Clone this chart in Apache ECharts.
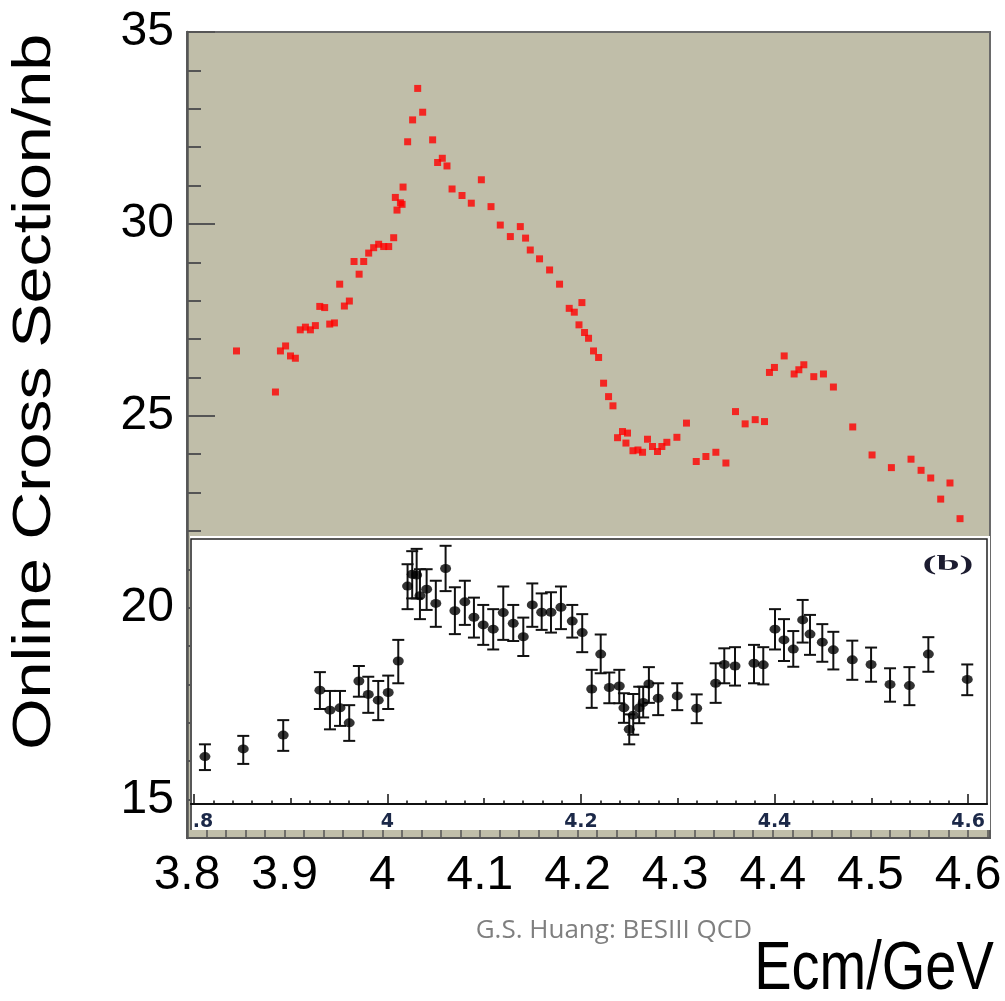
<!DOCTYPE html>
<html><head><meta charset="utf-8">
<script src="https://cdn.jsdelivr.net/npm/echarts@6/dist/echarts.min.js"></script>
<style>html,body{margin:0;padding:0;background:#fff}#c{width:1005px;height:1001px}</style>
</head><body><div id="c"></div>
<script>
// Upper panel: online cross section (red squares)
const upperX = [3.8507,3.8906,3.8957,3.9010,3.9060,3.9110,3.9160,3.9213,3.9264,3.9315,3.9360,3.9410,3.9462,3.9510,3.9564,3.9612,3.9663,3.9711,3.9763,3.9810,3.9861,3.9912,3.9963,4.0015,4.0066,4.0117,4.0134,4.0151,4.0186,4.0203,4.0213,4.0260,4.0311,4.0363,4.0414,4.0516,4.0567,4.0615,4.0663,4.0715,4.0817,4.0912,4.1015,4.1114,4.1209,4.1312,4.1414,4.1468,4.1516,4.1611,4.1714,4.1816,4.1915,4.1967,4.2015,4.2045,4.2072,4.2113,4.2164,4.2216,4.2267,4.2318,4.2363,4.2410,4.2461,4.2496,4.2512,4.2568,4.2619,4.2666,4.2717,4.2768,4.2819,4.2864,4.2915,4.3018,4.3116,4.3216,4.3315,4.3417,4.3520,4.3618,4.3717,4.3820,4.3915,4.3966,4.4017,4.4117,4.4219,4.4267,4.4318,4.4420,4.4519,4.4621,4.4819,4.5017,4.5215,4.5416,4.5519,4.5618,4.5720,4.5815,4.5918];
const upperY = [26.69,25.62,26.69,26.82,26.56,26.50,27.24,27.31,27.24,27.35,27.85,27.82,27.39,27.42,28.43,27.86,27.99,29.02,28.69,29.02,29.24,29.38,29.47,29.41,29.41,29.64,30.69,30.36,30.55,30.51,30.96,32.14,32.71,33.53,32.91,32.19,31.60,31.71,31.51,30.91,30.74,30.54,31.15,30.45,29.97,29.67,29.93,29.63,29.32,29.09,28.80,28.43,27.80,27.70,27.37,27.95,27.17,27.02,26.69,26.52,25.85,25.50,25.26,24.43,24.59,24.29,24.55,24.09,24.11,24.05,24.39,24.20,24.07,24.20,24.31,24.44,24.81,23.81,23.94,24.05,23.77,25.11,24.79,24.90,24.85,26.13,26.26,26.56,26.09,26.20,26.33,26.02,26.09,25.75,24.71,23.98,23.65,23.87,23.58,23.38,22.83,23.25,22.32];

// Lower panel (b): points with error bars
const lowerX  = [3.8114,3.8510,3.8923,3.9302,3.9406,3.9510,3.9605,3.9705,3.9802,3.9905,4.0008,4.0112,4.0208,4.0256,4.0302,4.0336,4.0405,4.0500,4.0601,4.0697,4.0800,4.0894,4.0990,4.1093,4.1197,4.1300,4.1404,4.1497,4.1594,4.1690,4.1793,4.1910,4.2013,4.2111,4.2204,4.2293,4.2396,4.2444,4.2499,4.2540,4.2602,4.2643,4.2702,4.2798,4.2995,4.3196,4.3392,4.3481,4.3592,4.3788,4.3884,4.4005,4.4098,4.4194,4.4291,4.4367,4.4494,4.4608,4.4804,4.4998,4.5194,4.5394,4.5590,4.5992];
const lowerY  = [16.13,16.33,16.69,17.86,17.34,17.40,17.01,18.10,17.75,17.60,17.80,18.62,20.57,20.88,20.86,20.32,20.49,20.12,21.03,19.93,20.16,19.76,19.56,19.45,19.88,19.60,19.25,20.08,19.89,19.89,20.02,19.66,19.36,17.89,18.80,17.93,17.97,17.40,16.84,17.21,17.40,17.54,18.02,17.65,17.71,17.39,18.04,18.53,18.49,18.56,18.52,19.45,19.17,18.93,19.69,19.32,19.11,18.91,18.65,18.53,18.01,17.98,18.80,18.14];
const lowerHi = [16.45,16.67,17.08,18.33,17.84,17.84,17.47,18.49,18.21,18.10,18.24,19.17,21.14,21.48,21.54,21.01,21.01,20.71,21.62,20.54,20.71,20.27,20.08,19.97,20.56,20.08,19.75,20.64,20.38,20.41,20.56,20.08,19.84,18.39,19.31,18.32,18.39,17.78,17.23,17.76,17.95,17.95,18.46,18.04,18.04,17.75,18.56,18.95,18.98,19.04,18.98,19.97,19.71,19.40,20.21,19.82,19.58,19.38,19.15,18.97,18.43,18.46,19.24,18.53];
const lowerLo = [15.78,15.94,16.28,17.37,16.84,16.93,16.54,17.69,17.27,17.08,17.37,18.04,19.97,20.25,20.25,19.71,19.95,19.51,20.44,19.32,19.56,19.23,19.04,18.92,19.17,19.14,18.75,19.51,19.43,19.36,19.45,19.23,18.85,17.40,18.30,17.52,17.52,17.01,16.45,16.70,17.00,17.15,17.53,17.21,17.34,17.00,17.53,18.04,17.98,18.04,18.01,18.92,18.62,18.47,19.10,18.78,18.60,18.40,18.13,18.08,17.56,17.47,18.34,17.73];

// Tick labels
const upperYLabels = [15, 20, 25, 30, 35];
const lowerXLabels = [3.8, 4.0, 4.2, 4.4, 4.6];
const lowerXMedium = [3.9, 4.1, 4.3, 4.5];
const lowerXMinor = [];
for (let i = 0; i <= 40; i++) { if (i % 5 !== 0) lowerXMinor.push(Math.round((3.8 + i * 0.02) * 100) / 100); }

const chart = echarts.init(document.getElementById('c'), null, {renderer: 'canvas'});
const SANS = '"Liberation Sans", Arial, Helvetica, sans-serif';
const BOLDSANS = '"DejaVu Sans", "Liberation Sans", sans-serif';
const labColor = '#1b2848';

const option = {
  animation: false,
  backgroundColor: '#ffffff',
  grid: [
    {left: 187, top: 32, width: 803, height: 806, show: true, backgroundColor: '#c0bea9', borderColor: '#6a6a6a', borderWidth: 2, z: 0},
    {left: 191, top: 539, width: 796, height: 265, show: true, backgroundColor: '#ffffff', borderColor: '#222', borderWidth: 1.5, z: 3}
  ],
  xAxis: [
    {gridIndex: 0, type: 'value', position: 'bottom', min: 3.8, max: 4.6225, interval: 0.1,
     axisLine: {show: true, lineStyle: {color: '#555', width: 2}},
     axisTick: {show: true, inside: true, length: 8, lineStyle: {color: '#555', width: 1.5}},
     minorTick: {show: true, splitNumber: 5, length: 8, lineStyle: {color: '#555', width: 1.5}},
     splitLine: {show: false},
     axisLabel: {show: true, showMaxLabel: false, showMinLabel: true, margin: 14, fontSize: 48, fontFamily: SANS, color: '#000'}},
    {gridIndex: 1, type: 'value', position: 'bottom', min: 3.797, max: 4.6196, z: 4,
     axisLine: {show: true, lineStyle: {color: '#111', width: 2}},
     axisTick: {show: true, inside: true, length: 10, customValues: lowerXLabels, lineStyle: {color: '#111', width: 1.5}},
     splitLine: {show: false},
     axisLabel: {show: true, customValues: lowerXLabels, margin: 9, fontSize: 19, fontWeight: 'bold', fontFamily: BOLDSANS, color: labColor,
       formatter: function (v) { return Math.abs(v - 3.8) < 1e-6 ? '{a|.8}' : String(v); },
       rich: {a: {padding: [0, 0, 0, 18], fontSize: 19, fontWeight: 'bold', fontFamily: BOLDSANS, color: labColor}}}},
    {gridIndex: 1, type: 'value', position: 'bottom', min: 3.797, max: 4.6196, z: 4,
     axisLine: {show: false}, axisLabel: {show: false}, splitLine: {show: false},
     axisTick: {show: true, inside: true, length: 6, customValues: lowerXMedium, lineStyle: {color: '#111', width: 1.5}}},
    {gridIndex: 1, type: 'value', position: 'bottom', min: 3.797, max: 4.6196, z: 4,
     axisLine: {show: false}, axisLabel: {show: false}, splitLine: {show: false},
     axisTick: {show: true, inside: true, length: 3.5, customValues: lowerXMinor, lineStyle: {color: '#111', width: 1.5}}}
  ],
  yAxis: [
    {gridIndex: 0, type: 'value', position: 'left', min: 14, max: 35, interval: 1,
     axisLine: {show: true, lineStyle: {color: '#555', width: 2.5}},
     axisTick: {show: true, inside: true, length: 14, lineStyle: {color: '#555', width: 2}},
     splitLine: {show: false},
     axisLabel: {show: true, margin: 13, fontSize: 48, fontFamily: SANS, color: '#000',
       formatter: function (v) { return upperYLabels.indexOf(v) >= 0 ? String(v) : ''; }}},
    {gridIndex: 0, type: 'value', position: 'left', min: 14, max: 35,
     axisLine: {show: false}, axisLabel: {show: false}, splitLine: {show: false},
     axisTick: {show: true, inside: true, length: 28, customValues: upperYLabels, lineStyle: {color: '#555', width: 2}}},
    {gridIndex: 1, type: 'value', show: false, min: 14.896, max: 21.797, splitLine: {show: false}}
  ],
  graphic: [
    {type: 'rect', z: 1, shape: {x: 190, y: 536, width: 800, height: 294}, style: {fill: '#ffffff'}},
    {type: 'line', z: 4, shape: {x1: 191, y1: 803, x2: 191, y2: 830}, style: {stroke: '#222', lineWidth: 1.5}},
    {type: 'text', z: 10, x: 35, y: 392, rotation: Math.PI / 2, scaleX: 1.23,
     style: {text: 'Online Cross Section/nb', font: '54px ' + SANS, fill: '#000', align: 'center', verticalAlign: 'middle', textAlign: 'center', textVerticalAlign: 'middle'}},
    {type: 'text', z: 10, x: 874, y: 970, scaleY: 1.22,
     style: {text: 'Ecm/GeV', font: '56px ' + SANS, fill: '#000', align: 'center', verticalAlign: 'middle', textAlign: 'center', textVerticalAlign: 'middle'}},
    {type: 'text', z: 10, x: 752, y: 931,
     style: {text: 'G.S. Huang: BESIII QCD', font: '26px "Open Sans", "Noto Sans", sans-serif', fill: '#7f7f7f', align: 'right', verticalAlign: 'middle', textAlign: 'right', textVerticalAlign: 'middle'}},
    {type: 'text', z: 10, x: 948, y: 564, scaleX: 1.9,
     style: {text: '(b)', font: 'bold 22px "Liberation Serif", "Times New Roman", serif', fill: '#1c1c30', align: 'center', verticalAlign: 'middle', textAlign: 'center', textVerticalAlign: 'middle'}}
  ],
  series: [
    {type: 'scatter', xAxisIndex: 0, yAxisIndex: 0, symbol: 'rect', symbolSize: 7,
     itemStyle: {color: '#ff0000'}, z: 2,
     data: upperX.map(function (x, i) { return [x, upperY[i]]; })},
    {type: 'custom', xAxisIndex: 1, yAxisIndex: 2, z: 5, clip: false,
     encode: {x: 0, y: [1, 2]},
     data: lowerX.map(function (x, i) { return [x, lowerLo[i], lowerHi[i]]; }),
     renderItem: function (params, api) {
       const x = api.value(0);
       const top = api.coord([x, api.value(2)]);
       const bot = api.coord([x, api.value(1)]);
       const w = 6;
       const st = {stroke: '#111', lineWidth: 2};
       return {type: 'group', children: [
         {type: 'line', shape: {x1: top[0], y1: top[1], x2: bot[0], y2: bot[1]}, style: st},
         {type: 'line', shape: {x1: top[0] - w, y1: top[1], x2: top[0] + w, y2: top[1]}, style: st},
         {type: 'line', shape: {x1: bot[0] - w, y1: bot[1], x2: bot[0] + w, y2: bot[1]}, style: st}
       ]};
     }},
    {type: 'scatter', xAxisIndex: 1, yAxisIndex: 2, symbol: 'circle', symbolSize: [11, 9], z: 6,
     itemStyle: {color: '#000'},
     data: lowerX.map(function (x, i) { return [x, lowerY[i]]; })}
  ]
};
chart.setOption(option);
</script>
</body></html>
